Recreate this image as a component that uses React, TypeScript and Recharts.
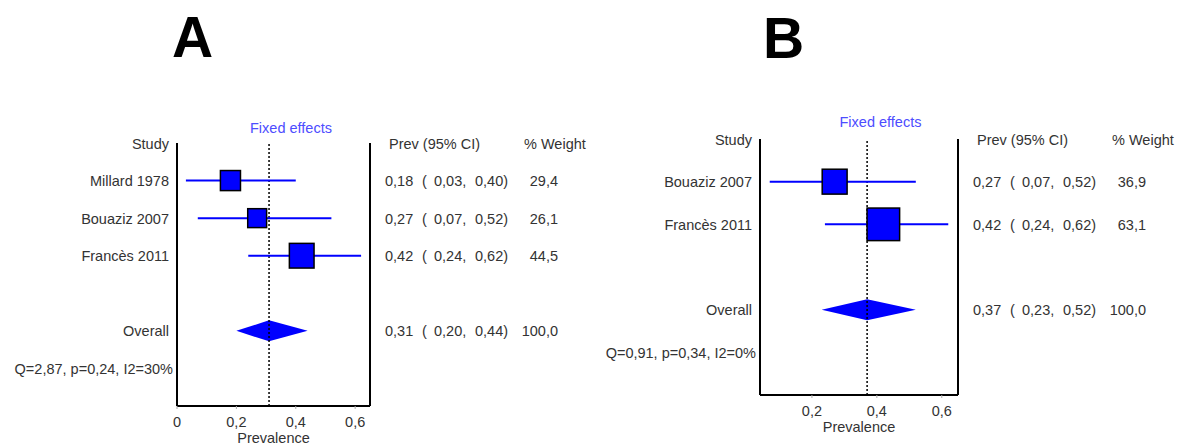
import { ScatterChart, Scatter, XAxis, YAxis, ReferenceLine, ReferenceArea } from "recharts";

const studiesA = ["Millard 1978", "Bouaziz 2007", "Francès 2011"];
const prevA = [0.18, 0.27, 0.42];
const lowA = [0.03, 0.07, 0.24];
const highA = [0.4, 0.52, 0.62];
const weightA = [29.4, 26.1, 44.5];
const overallA = [0.31, 0.2, 0.44, 100.0];
const statsA = "Q=2,87, p=0,24, I2=30%";
const ticksA = [0, 0.2, 0.4, 0.6];

const studiesB = ["Bouaziz 2007", "Francès 2011"];
const prevB = [0.27, 0.42];
const lowB = [0.07, 0.24];
const highB = [0.52, 0.62];
const weightB = [36.9, 63.1];
const overallB = [0.37, 0.23, 0.52, 100.0];
const statsB = "Q=0,91, p=0,34, I2=0%";
const ticksB = [0.2, 0.4, 0.6];

const FONT = "'Liberation Sans', Arial, sans-serif";
const TEXT = "#333";
const BLUE = "#0000ff";

const comma = (v: number, d: number) => v.toFixed(d).replace(".", ",");

interface PanelProps {
  studies: string[];
  prev: number[];
  low: number[];
  high: number[];
  weight: number[];
  overall: number[];
  stats: string;
  xDomain: [number, number];
  xTicks: number[];
  boxK: number;
  width: number;
  left: number;
  top: number;
  xHeight: number;
}

function ForestPanel(p: PanelProps) {
  const n = p.studies.length;
  const overallRow = n + 2;
  const statsRow = n + 3;
  const maxRow = n + 4;
  const rows = [0, ...p.studies.map((_, i) => i + 1), overallRow, statsRow];
  const data = p.studies.map((_, i) => ({ x: p.prev[i], y: i + 1, w: p.weight[i] }));
  const rowPx = (448 - p.top - p.xHeight) / maxRow;
  const halfH = 10.5 / rowPx;
  const frac = (p.overall[0] - p.overall[1]) / (p.overall[2] - p.overall[1]);

  const leftTick = (t: any) => {
    const r = t.payload.value;
    let label = "";
    if (r === 0) label = "Study";
    else if (r <= n) label = p.studies[r - 1];
    else if (r === overallRow) label = "Overall";
    else if (r === statsRow) label = p.stats;
    const dx = r === statsRow ? -4 : -8;
    return (
      <text x={t.x + dx} y={t.y} dy={5.5} textAnchor="end" fontSize={14.5} fontFamily={FONT} fill={TEXT}>
        {label}
      </text>
    );
  };

  const rightTick = (t: any) => {
    const r = t.payload.value;
    const common = { fontSize: 14.5, fontFamily: FONT, fill: TEXT, y: t.y, dy: 5.5 };
    if (r === 0) {
      return (
        <g>
          <text {...common} x={t.x + 19}>Prev (95% CI)</text>
          <text {...common} x={t.x + 154}>% Weight</text>
        </g>
      );
    }
    let vals: number[] | null = null;
    if (r <= n) vals = [p.prev[r - 1], p.low[r - 1], p.high[r - 1], p.weight[r - 1]];
    else if (r === overallRow) vals = p.overall;
    if (!vals) return <g />;
    return (
      <g>
        <text {...common} x={t.x + 15}>{comma(vals[0], 2)}</text>
        <text {...common} x={t.x + 52}>(</text>
        <text {...common} x={t.x + 64}>{comma(vals[1], 2) + ","}</text>
        <text {...common} x={t.x + 105}>{comma(vals[2], 2) + ")"}</text>
        <text {...common} x={t.x + 188} textAnchor="end">{comma(vals[3], 1)}</text>
      </g>
    );
  };

  return (
    <ScatterChart width={p.width} height={448} margin={{ top: p.top, right: 0, bottom: 0, left: 0 }}>
      <XAxis
        type="number"
        dataKey="x"
        domain={p.xDomain}
        ticks={p.xTicks}
        allowDataOverflow
        tickFormatter={(v) => String(v).replace(".", ",")}
        height={p.xHeight}
        tickSize={3}
        tickMargin={8}
        tickLine={{ stroke: "#aaa" }}
        axisLine={{ stroke: "#000", strokeWidth: 2 }}
        tick={{ fill: TEXT, fontSize: 14.5, fontFamily: FONT }}
        label={{ value: "Prevalence", position: "insideTop", offset: 27, fill: TEXT, fontSize: 14.5, fontFamily: FONT }}
      />
      <YAxis
        yAxisId="left"
        type="number"
        dataKey="y"
        domain={[0, maxRow]}
        allowDataOverflow
        reversed
        ticks={rows}
        interval={0}
        width={p.left}
        tickSize={0}
        tickMargin={0}
        tickLine={false}
        axisLine={{ stroke: "#000", strokeWidth: 2 }}
        tick={leftTick}
      />
      <YAxis
        yAxisId="right"
        orientation="right"
        type="number"
        dataKey="y"
        domain={[0, maxRow]}
        allowDataOverflow
        reversed
        ticks={rows}
        interval={0}
        width={220}
        tickSize={0}
        tickMargin={0}
        tickLine={false}
        axisLine={{ stroke: "#000", strokeWidth: 2 }}
        tick={rightTick}
      />
      <ReferenceLine
        yAxisId="left"
        x={p.overall[0]}
        stroke="#000"
        strokeWidth={1.5}
        strokeDasharray="2 2"
      />
      {p.studies.map((_, i) => (
        <ReferenceLine
          key={i}
          yAxisId="left"
          segment={[
            { x: p.low[i], y: i + 1 },
            { x: p.high[i], y: i + 1 },
          ]}
          stroke={BLUE}
          strokeWidth={2}
        />
      ))}
      <ReferenceArea
        yAxisId="left"
        x1={p.overall[1]}
        x2={p.overall[2]}
        y1={overallRow - halfH}
        y2={overallRow + halfH}
        shape={(s: any) => {
          const ax = s.x + s.width * frac;
          const my = s.y + s.height / 2;
          return (
            <polygon
              points={`${s.x},${my} ${ax},${s.y} ${s.x + s.width},${my} ${ax},${s.y + s.height}`}
              fill={BLUE}
            />
          );
        }}
      />
      <Scatter yAxisId="right" data={data} isAnimationActive={false} shape={() => <g />} />
      <Scatter
        yAxisId="left"
        data={data}
        isAnimationActive={false}
        shape={(s: any) => {
          const side = p.boxK * Math.sqrt(s.payload.w);
          return (
            <rect
              x={s.cx - side / 2}
              y={s.cy - side / 2}
              width={side}
              height={side}
              fill={BLUE}
              stroke="#000"
              strokeWidth={1.5}
            />
          );
        }}
      />
    </ScatterChart>
  );
}

export default function App() {
  return (
    <div style={{ position: "absolute", left: 0, top: 0, width: 1178, height: 448, background: "#fff" }}>
      <div style={{ position: "absolute", left: 0, top: 0 }}>
        <ForestPanel
          studies={studiesA}
          prev={prevA}
          low={lowA}
          high={highA}
          weight={weightA}
          overall={overallA}
          stats={statsA}
          xDomain={[0, 0.65]}
          xTicks={ticksA}
          boxK={3.7}
          width={590}
          left={177}
          top={143}
          xHeight={42}
        />
      </div>
      <div style={{ position: "absolute", left: 590, top: 0 }}>
        <ForestPanel
          studies={studiesB}
          prev={prevB}
          low={lowB}
          high={highB}
          weight={weightB}
          overall={overallB}
          stats={statsB}
          xDomain={[0.04, 0.65]}
          xTicks={ticksB}
          boxK={4.1}
          width={588}
          left={170}
          top={139}
          xHeight={53}
        />
      </div>
      <svg
        width={1178}
        height={448}
        style={{ position: "absolute", left: 0, top: 0, pointerEvents: "none" }}
      >
        <text x={192.5} y={57} textAnchor="middle" fontSize={57} fontWeight="bold" fontFamily={FONT} fill="#000">
          A
        </text>
        <text x={783.5} y={58} textAnchor="middle" fontSize={57} fontWeight="bold" fontFamily={FONT} fill="#000">
          B
        </text>
        <text x={291} y={132.5} textAnchor="middle" fontSize={14.5} fontFamily={FONT} fill="#4d4dff">
          Fixed effects
        </text>
        <text x={880.5} y={127.3} textAnchor="middle" fontSize={14.5} fontFamily={FONT} fill="#4d4dff">
          Fixed effects
        </text>
      </svg>
    </div>
  );
}
